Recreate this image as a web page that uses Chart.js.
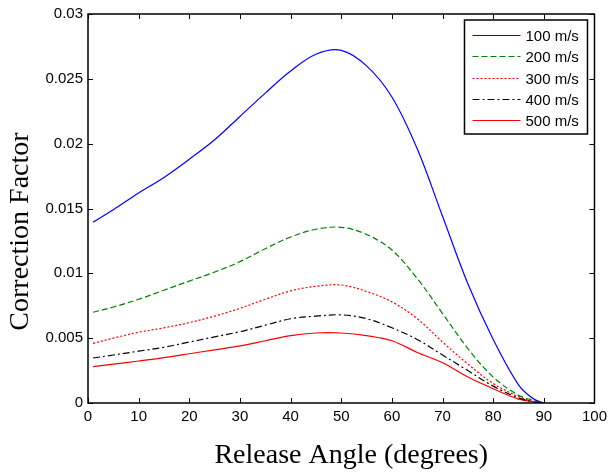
<!DOCTYPE html>
<html>
<head>
<meta charset="utf-8">
<script src="https://cdn.jsdelivr.net/npm/chart.js@4/dist/chart.umd.min.js"></script>
<style>
  html, body { margin: 0; padding: 0; background: #fff; }
  #chart { display: block; }
</style>
</head>
<body>
<canvas id="chart" width="612" height="472"></canvas>
<script>
'use strict';

// release angle (degrees)
const angles = [1, 5, 10, 15, 20, 25, 30, 35, 40, 45, 50, 55, 60, 65, 70, 75, 80, 85, 88, 90];

const v100 = [0.01395, 0.0149, 0.0162, 0.0174, 0.0188, 0.0203, 0.0221, 0.0239, 0.0256, 0.0269, 0.0272,
  0.0260, 0.0236, 0.0196, 0.0144, 0.0092, 0.0049, 0.0014, 0.0003, 0];
const v200 = [0.0070, 0.0074, 0.0080, 0.0087, 0.0094, 0.0101, 0.0109, 0.0119, 0.0128, 0.0134, 0.01355,
  0.0130, 0.0118, 0.0096, 0.0069, 0.0042, 0.0020, 0.0006, 0.0002, 0];
const v300 = [0.0046, 0.0050, 0.00546, 0.0058, 0.0062, 0.0067, 0.0073, 0.0080, 0.00865, 0.0090, 0.0091,
  0.0086, 0.0078, 0.0065, 0.0047, 0.0030, 0.0015, 0.0005, 0.0001, 0];
const v400 = [0.00347, 0.0037, 0.0040, 0.0043, 0.0047, 0.0051, 0.0055, 0.0060, 0.0065, 0.0067, 0.0068,
  0.0065, 0.0058, 0.0049, 0.0037, 0.0025, 0.0013, 0.0004, 0.0001, 0];
const v500 = [0.0028, 0.0030, 0.00324, 0.0035, 0.0038, 0.0041, 0.0044, 0.0048, 0.0052, 0.0054, 0.0054,
  0.0052, 0.0048, 0.0039, 0.0031, 0.0020, 0.0011, 0.0003, 0.0001, 0];

const seriesLabels = ['100 m/s', '200 m/s', '300 m/s', '400 m/s', '500 m/s'];
const xTicks = [0, 10, 20, 30, 40, 50, 60, 70, 80, 90, 100];
const yTicks = [0, 0.005, 0.01, 0.015, 0.02, 0.025, 0.03];
const yTickLabels = ['0', '0.005', '0.01', '0.015', '0.02', '0.025', '0.03'];
const xTitle = 'Release Angle (degrees)';
const yTitle = 'Correction Factor';

const styles = [
  { color: '#0000ff', dash: [] },
  { color: '#008000', dash: [6, 3] },
  { color: '#ff0000', dash: [2, 2] },
  { color: '#000000', dash: [7, 3, 2, 3] },
  { color: '#ff0000', dash: [] }
];

const tickFont = { family: 'Liberation Sans', size: 15 };

function toPoints(vals) {
  return angles.map((a, i) => ({ x: a, y: vals[i] }));
}

const datasets = [v100, v200, v300, v400, v500].map((vals, i) => ({
  label: seriesLabels[i],
  data: toPoints(vals),
  borderColor: styles[i].color,
  borderDash: styles[i].dash,
  borderWidth: 1.2,
  pointRadius: 0,
  tension: 0.35,
  fill: false
}));

// matlab style frame, inward ticks, axis titles and boxed legend
const matlabFrame = {
  id: 'matlabFrame',
  afterDraw(chart) {
    const ctx = chart.ctx;
    const a = chart.chartArea;
    const xs = chart.scales.x;
    const ys = chart.scales.y;
    ctx.save();
    ctx.strokeStyle = '#000';
    ctx.lineWidth = 1.5;
    ctx.setLineDash([]);
    ctx.strokeRect(a.left, a.top, a.right - a.left, a.bottom - a.top);
    ctx.lineWidth = 1;
    const tl = 5;
    ctx.beginPath();
    xTicks.forEach(t => {
      const px = Math.round(xs.getPixelForValue(t)) + 0.5;
      ctx.moveTo(px, a.bottom); ctx.lineTo(px, a.bottom - tl);
      ctx.moveTo(px, a.top); ctx.lineTo(px, a.top + tl);
    });
    yTicks.forEach(t => {
      const py = Math.round(ys.getPixelForValue(t)) + 0.5;
      ctx.moveTo(a.left, py); ctx.lineTo(a.left + tl, py);
      ctx.moveTo(a.right, py); ctx.lineTo(a.right - tl, py);
    });
    ctx.stroke();

    // axis titles
    ctx.fillStyle = '#000';
    ctx.font = '28px "Liberation Serif"';
    ctx.textAlign = 'center';
    ctx.textBaseline = 'middle';
    ctx.fillText(xTitle, (a.left + a.right) / 2 + 10, a.bottom + 53);
    ctx.save();
    ctx.translate(21, (a.top + a.bottom) / 2 + 23);
    ctx.rotate(-Math.PI / 2);
    ctx.fillText(yTitle, 0, 0);
    ctx.restore();

    // legend
    const bw = 123, bh = 114;
    const bx = a.right - 7 - bw, by = a.top + 6;
    ctx.fillStyle = '#fff';
    ctx.fillRect(bx, by, bw, bh);
    ctx.lineWidth = 1.5;
    ctx.strokeStyle = '#000';
    ctx.strokeRect(bx, by, bw, bh);
    ctx.font = '15px "Liberation Sans"';
    ctx.textAlign = 'left';
    ctx.textBaseline = 'middle';
    chart.data.datasets.forEach((ds, i) => {
      const ry = Math.round(by + 15 + i * 21.3) + 0.5;
      ctx.strokeStyle = ds.borderColor;
      ctx.lineWidth = 1.2;
      ctx.setLineDash(ds.borderDash);
      ctx.beginPath();
      ctx.moveTo(bx + 8, ry);
      ctx.lineTo(bx + 56, ry);
      ctx.stroke();
      ctx.setLineDash([]);
      ctx.fillStyle = '#000';
      ctx.fillText(ds.label, bx + 61, ry + 1);
    });
    ctx.restore();
  }
};

new Chart(document.getElementById('chart').getContext('2d'), {
  type: 'line',
  data: { datasets: datasets },
  options: {
    responsive: false,
    animation: false,
    layout: { padding: { top: 12, right: 15, left: 0, bottom: 0 } },
    plugins: { legend: { display: false }, tooltip: { enabled: false } },
    scales: {
      x: {
        type: 'linear',
        min: 0,
        max: 100,
        afterFit(scale) { scale.height = 69; },
        afterBuildTicks(scale) { scale.ticks = xTicks.map(v => ({ value: v })); },
        grid: { display: false, drawTicks: false },
        border: { display: false },
        ticks: { font: tickFont, color: '#000', padding: 5, maxRotation: 0, autoSkip: false }
      },
      y: {
        type: 'linear',
        min: 0,
        max: 0.03,
        afterFit(scale) { scale.width = 88; },
        afterBuildTicks(scale) { scale.ticks = yTicks.map(v => ({ value: v })); },
        grid: { display: false, drawTicks: false },
        border: { display: false },
        ticks: {
          font: tickFont,
          color: '#000',
          padding: 5,
          autoSkip: false,
          callback: function (value) {
            const i = yTicks.findIndex(t => Math.abs(t - value) < 1e-9);
            return i >= 0 ? yTickLabels[i] : '';
          }
        }
      }
    }
  },
  plugins: [matlabFrame]
});
</script>
</body>
</html>
